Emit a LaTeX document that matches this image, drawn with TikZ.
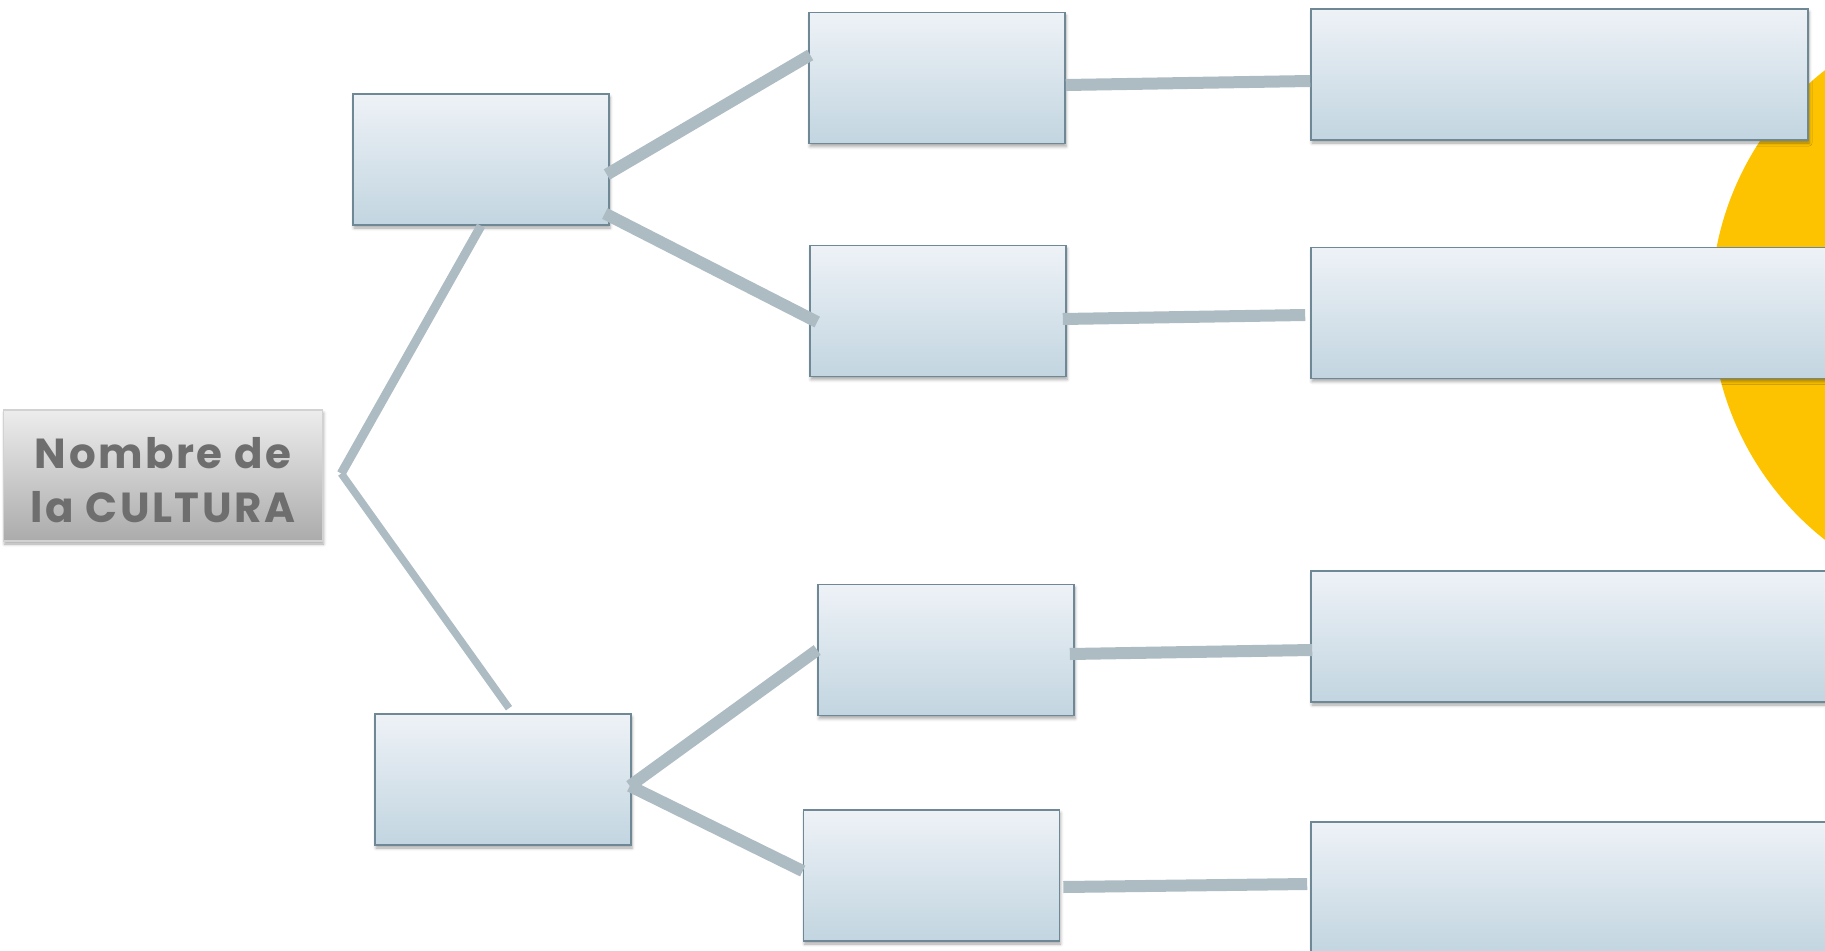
\documentclass[tikz,border=0pt]{standalone}
\usepackage{fontspec}
\setmainfont{Poppins}
\newfontfamily\titlefont{Poppins}[LetterSpace=6]
\usetikzlibrary{calc,shadows.blur}
\definecolor{boxtop}{HTML}{EEF2F7}
\definecolor{boxbot}{HTML}{C2D5E0}
\definecolor{boxline}{HTML}{6F8896}
\definecolor{conn}{HTML}{ADBBC3}
\definecolor{sun}{HTML}{FDC300}
\definecolor{greytop}{HTML}{EDEDED}
\definecolor{greybot}{HTML}{ABABAB}
\definecolor{greyline}{HTML}{D2D2D2}
\definecolor{txt}{HTML}{6E6E6E}
\tikzset{
  bluebox/.style={rectangle, inner sep=0pt, top color=boxtop, bottom color=boxbot,
    draw=boxline, line width=1.6pt, minimum height=131pt,
    blur shadow={shadow xshift=1pt, shadow yshift=-3pt, shadow blur radius=3pt, shadow opacity=35}},
  mainbox/.style={rectangle, inner sep=0pt, top color=greytop, bottom color=greybot,
    draw=greyline, line width=1.5pt, minimum width=319pt, minimum height=131pt,
    blur shadow={shadow xshift=1pt, shadow yshift=-3pt, shadow blur radius=3pt, shadow opacity=35}},
  titletext/.style={inner sep=0pt, align=center, text=txt,
    font=\titlefont\fontsize{42}{54}\selectfont\bfseries},
  conna/.style={draw=conn, line width=9pt},
  connb/.style={draw=conn, line width=7.5pt},
  thickconn/.style={draw=conn, line width=12pt}
}
\begin{document}
\begin{tikzpicture}[x=1pt,y=-1pt]
\useasboundingbox (0,0) rectangle (1825,950);
\clip (0,0) rectangle (1825,950);
\fill[sun] (2010,305) circle (299);
% nodes
\node[mainbox] (main) at (163,475.5) {};
\node[titletext] (mainlabel) at ($(main.center)+(0,5)$) {Nombre de\\la CULTURA};
\node[bluebox, minimum width=256pt] (A) at (481,159.5) {};
\node[bluebox, minimum width=256pt] (D) at (503,779.5) {};
\node[bluebox, minimum width=256pt] (B1) at (937,78) {};
\node[bluebox, minimum width=256pt] (B2) at (938,311) {};
\node[bluebox, minimum width=256pt] (B3) at (946,650) {};
\node[bluebox, minimum width=256pt] (B4) at (931.5,875.5) {};
\node[bluebox, minimum width=497pt] (C1) at (1559.5,74.5) {};
\node[bluebox, minimum width=520pt] (C2) at (1571,313) {};
\node[bluebox, minimum width=520pt] (C3) at (1571,636.5) {};
\node[bluebox, minimum width=520pt] (C4) at (1571,887.5) {};
% connectors
\coordinate (fork) at ($(main.east)+(18,-2)$);
\draw[conna] (fork) -- (A.south);
\draw[connb] (fork) -- ($(D.north)+(6,-5)$);
\draw[thickconn] ($(A.east)+(-3,15)$) -- ($(B1.west)+(2,-23)$);
\draw[thickconn] ($(A.east)+(-5,54)$) -- ($(B2.west)+(8,11)$);
\draw[thickconn] ($(B1.east)+(0,7)$) -- ($(C1.west)+(0,6.5)$);
\draw[thickconn] ($(B2.east)+(-4,8)$) -- ($(C2.west)+(-5,2)$);
\draw[thickconn] ($(D.east)+(-2,6.5)$) -- ($(B3.west)+(0,0)$);
\draw[thickconn] ($(D.east)+(-2,6.5)$) -- ($(B4.west)+(0,-4.5)$);
\draw[thickconn] ($(B3.east)+(-5,4)$) -- ($(C3.west)+(2,13.5)$);
\draw[thickconn] ($(B4.east)+(3,11.5)$) -- ($(C4.west)+(-3,-3.5)$);
\end{tikzpicture}
\end{document}
